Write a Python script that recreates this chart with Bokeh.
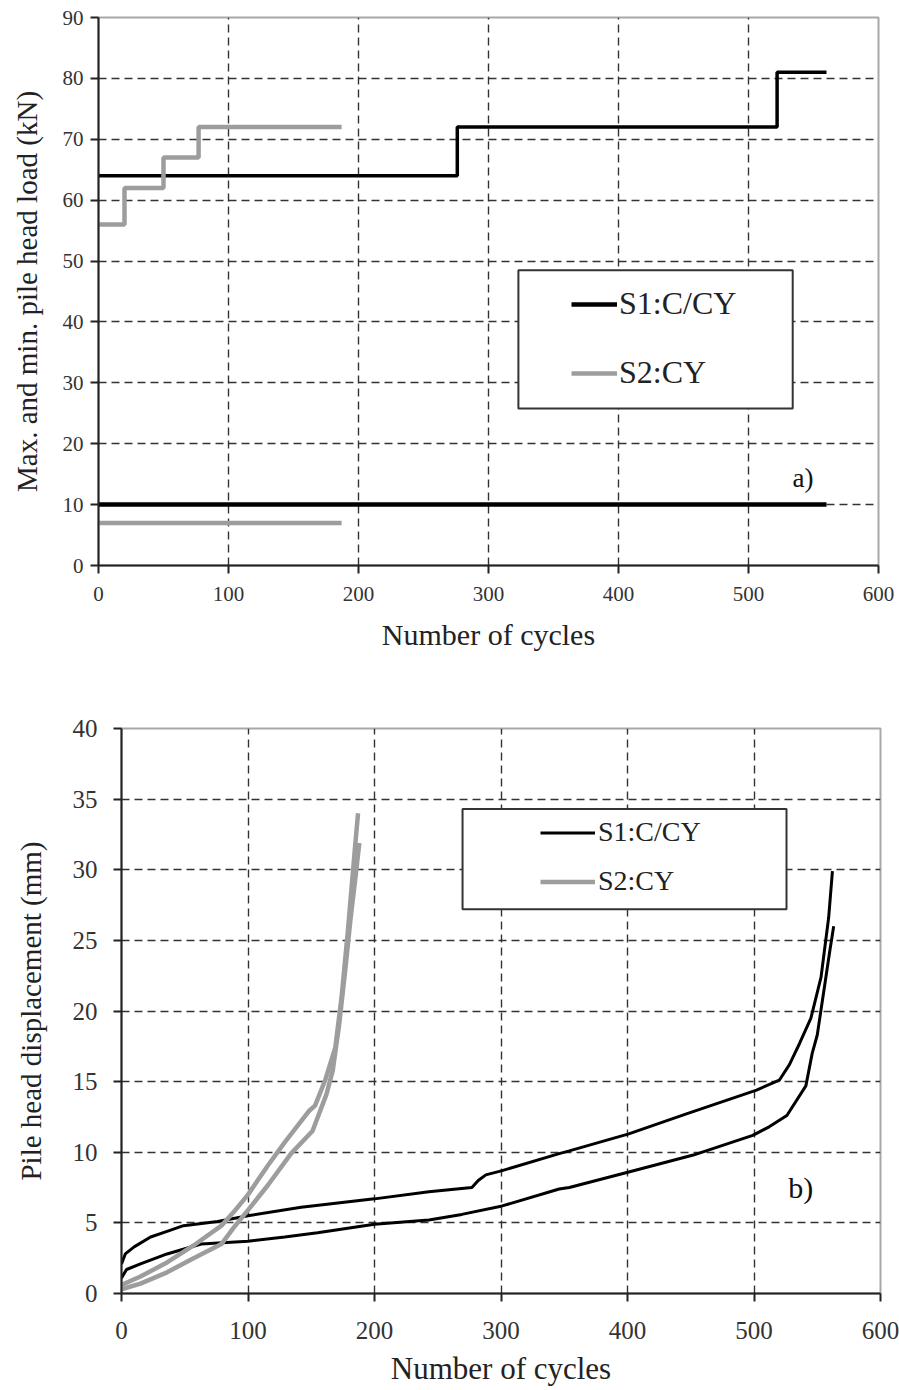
from bokeh.plotting import figure
from bokeh.models import Range1d, FixedTicker, Legend, LegendItem, BoxAnnotation, Label
from bokeh.embed import file_html
from bokeh.resources import INLINE

# ---------------- data ----------------
cycle_ticks = [0, 100, 200, 300, 400, 500, 600]
load_ticks = [0, 10, 20, 30, 40, 50, 60, 70, 80, 90]
disp_ticks = [0, 5, 10, 15, 20, 25, 30, 35, 40]
series_names = ["S1:C/CY", "S2:CY"]

# panel a) max / min pile head load (kN), stepwise
s1_max_cycles = [0, 276, 522, 560]
s1_max_load = [64, 72, 81, 81]
s1_min_cycles = [0, 560]
s1_min_load = [10, 10]
s2_max_cycles = [0, 20, 50, 77, 187]
s2_max_load = [56, 62, 67, 72, 72]
s2_min_cycles = [0, 187]
s2_min_load = [7, 7]

# panel b) pile head displacement (mm)
s1_upper_cycles = [0, 3, 10, 23, 36, 49, 76, 100, 142, 200, 243, 277, 282, 288, 301, 346,
                   354, 401, 446, 502, 520, 528, 536, 545, 553, 559, 562]
s1_upper_disp = [2.1, 2.8, 3.3, 4.0, 4.4, 4.8, 5.1, 5.5, 6.1, 6.7, 7.2, 7.5, 8.0, 8.4, 8.7, 9.9,
                 10.1, 11.3, 12.7, 14.4, 15.1, 16.2, 17.7, 19.5, 22.4, 26.6, 29.9]
s1_lower_cycles = [0, 4, 15, 36, 63, 100, 129, 155, 200, 243, 269, 301, 346, 354, 401, 452,
                   499, 512, 526, 541, 546, 550, 556, 560, 563]
s1_lower_disp = [1.1, 1.7, 2.1, 2.8, 3.5, 3.7, 4.0, 4.3, 4.9, 5.2, 5.6, 6.2, 7.4, 7.5, 8.6, 9.8,
                 11.2, 11.8, 12.6, 14.7, 17.0, 18.3, 21.9, 24.3, 26.0]
s2_upper_cycles = [0, 15, 36, 57, 79, 89, 100, 116, 129, 148, 153, 161, 169, 174, 179, 183, 185, 187]
s2_upper_disp = [0.6, 1.2, 2.2, 3.4, 4.8, 5.8, 7.0, 9.1, 10.7, 12.9, 13.3, 15.1, 17.4, 21.0,
                 25.7, 29.9, 32.0, 34.0]
s2_lower_cycles = [0, 15, 36, 57, 79, 89, 100, 116, 134, 151, 162, 167, 172, 177, 181, 185, 188]
s2_lower_disp = [0.3, 0.7, 1.5, 2.5, 3.5, 4.7, 5.9, 7.7, 9.9, 11.5, 14.1, 15.8, 19.0, 23.0,
                 26.5, 29.5, 31.9]

# ---------------- styling ----------------
FONT = "'Liberation Serif'"
BLACK = "#000000"
GRAY = "#9d9d9d"
GRID = "#333333"


def style(p, xlabel, ylabel, tick_size, label_size_x, label_size_y, grid_x, grid_y,
          tick_std, xlab_std, ylab_std, ytick_std):
    p.outline_line_color = "#a8a8a8"
    p.outline_line_width = 2
    p.background_fill_color = "white"
    p.border_fill_color = "white"
    for ax in (p.xaxis[0], p.yaxis[0]):
        ax.axis_line_color = "#222222"
        ax.axis_line_width = 2
        ax.major_tick_line_color = "#222222"
        ax.major_tick_line_width = 2
        ax.major_tick_in = 0
        ax.major_tick_out = 8
        ax.minor_tick_line_color = None
        ax.major_label_text_font = FONT
        ax.major_label_text_font_size = f"{tick_size}px"
        ax.major_label_text_color = "#333333"
        ax.axis_label_text_font = FONT
        ax.axis_label_text_font_style = "normal"
        ax.axis_label_text_color = "#222222"
    p.xaxis[0].axis_label = xlabel
    p.yaxis[0].axis_label = ylabel
    p.xaxis[0].axis_label_text_font_size = f"{label_size_x}px"
    p.yaxis[0].axis_label_text_font_size = f"{label_size_y}px"
    p.xaxis[0].major_label_standoff = tick_std
    p.yaxis[0].major_label_standoff = ytick_std
    p.xaxis[0].axis_label_standoff = xlab_std
    p.yaxis[0].axis_label_standoff = ylab_std
    p.xgrid[0].ticker = FixedTicker(ticks=grid_x)
    p.ygrid[0].ticker = FixedTicker(ticks=grid_y)
    for g in (p.xgrid[0], p.ygrid[0]):
        g.grid_line_color = GRID
        g.grid_line_dash = "8 5"
        g.grid_line_width = 1.4


# ---------------- panel a ----------------
pa = figure(width=899, height=678, x_range=Range1d(0, 600), y_range=Range1d(0, 90),
            output_backend="svg", toolbar_location=None,
            min_border_left=98, min_border_right=21, min_border_top=17, min_border_bottom=113)
pa.xaxis.ticker = FixedTicker(ticks=cycle_ticks)
pa.yaxis.ticker = FixedTicker(ticks=load_ticks)
style(pa, "Number of cycles", "Max. and min. pile head load (kN)", 21, 30, 29,
      cycle_ticks[1:-1], load_ticks[1:-1], 13, 14, 17, 7)

pa.step(s1_max_cycles, s1_max_load, mode="after", line_color=BLACK, line_width=3.5)
pa.step(s2_max_cycles, s2_max_load, mode="after", line_color=GRAY, line_width=4.5)
r_a1 = pa.line(s1_min_cycles, s1_min_load, line_color=BLACK, line_width=4.5)
r_a2 = pa.line(s2_min_cycles, s2_min_load, line_color=GRAY, line_width=4.5)

pa.add_layout(BoxAnnotation(left=323, right=534, bottom=25.8, top=48.5,
                            fill_color="white", fill_alpha=1.0,
                            line_color="#333333", line_alpha=1.0, line_width=2))
leg_a = Legend(items=[LegendItem(label=series_names[0], renderers=[r_a1]),
                      LegendItem(label=series_names[1], renderers=[r_a2])],
               location=(473, 174), padding=0, margin=0, spacing=32,
               glyph_width=46, glyph_height=34, label_height=34, label_standoff=2,
               border_line_color=None, background_fill_alpha=0.0,
               label_text_font=FONT, label_text_font_size="32px", label_text_color="#222222")
pa.add_layout(leg_a, "center")
pa.add_layout(Label(x=542, y=14.4, text="a)", text_font=FONT, text_font_size="27px",
                    text_align="center", text_baseline="middle", text_color="#111111"))

# ---------------- panel b ----------------
pb = figure(width=899, height=712, x_range=Range1d(0, 600), y_range=Range1d(0, 40),
            output_backend="svg", toolbar_location=None,
            min_border_left=121, min_border_right=19, min_border_top=50, min_border_bottom=97)
pb.xaxis.ticker = FixedTicker(ticks=cycle_ticks)
pb.yaxis.ticker = FixedTicker(ticks=disp_ticks)
style(pb, "Number of cycles", "Pile head displacement (mm)", 25, 31, 29,
      cycle_ticks[1:-1], disp_ticks[1:-1], 20, 9, 23, 16)

r_b1 = pb.line(s1_upper_cycles, s1_upper_disp, line_color=BLACK, line_width=3)
pb.line(s1_lower_cycles, s1_lower_disp, line_color=BLACK, line_width=3)
r_b2 = pb.line(s2_upper_cycles, s2_upper_disp, line_color=GRAY, line_width=4.5)
pb.line(s2_lower_cycles, s2_lower_disp, line_color=GRAY, line_width=4.5)

pb.add_layout(BoxAnnotation(left=269.6, right=525.7, bottom=27.2, top=34.3,
                            fill_color="white", fill_alpha=1.0,
                            line_color="#333333", line_alpha=1.0, line_width=2))
leg_b = Legend(items=[LegendItem(label=series_names[0], renderers=[r_b1]),
                      LegendItem(label=series_names[1], renderers=[r_b2])],
               location=(419, 396), padding=0, margin=0, spacing=17,
               glyph_width=55, glyph_height=31, label_height=31, label_standoff=3,
               border_line_color=None, background_fill_alpha=0.0,
               label_text_font=FONT, label_text_font_size="28px", label_text_color="#222222")
pb.add_layout(leg_b, "center")
pb.add_layout(Label(x=537, y=7.5, text="b)", text_font=FONT, text_font_size="30px",
                    text_align="center", text_baseline="middle", text_color="#111111"))

open("out.html", "w").write(file_html([pa, pb], INLINE))
